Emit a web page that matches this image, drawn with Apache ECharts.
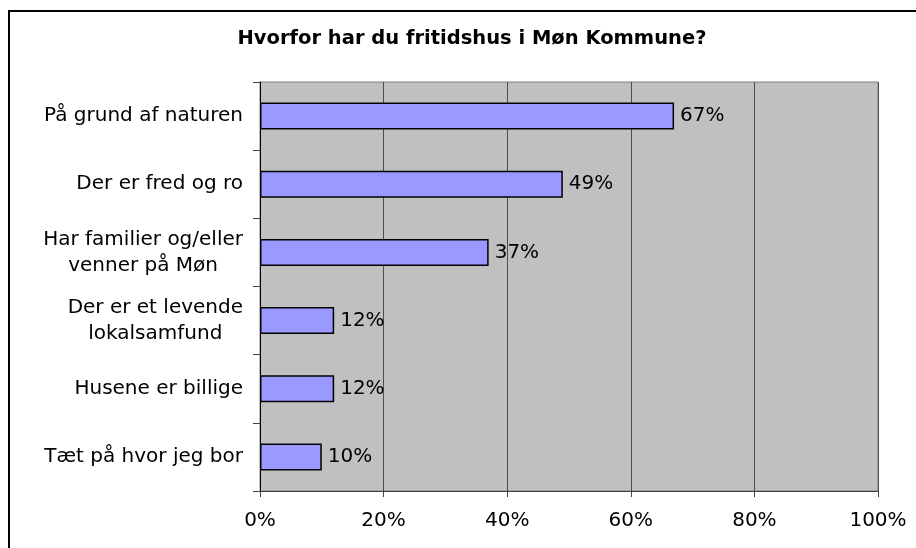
<!DOCTYPE html>
<html>
<head>
<meta charset="utf-8">
<script src="https://cdn.jsdelivr.net/npm/echarts@6/dist/echarts.min.js"></script>
<style>
  html, body { margin: 0; padding: 0; background: #fff; }
  #chart { width: 916px; height: 548px; }
</style>
</head>
<body>
<div id="chart"></div>
<script>
const titleText = 'Hvorfor har du fritidshus i Møn Kommune?'
const categories = [
  'På grund af naturen',
  'Der er fred og ro',
  'Har familier og/eller\nvenner på Møn',
  'Der er et levende\nlokalsamfund',
  'Husene er billige',
  'Tæt på hvor jeg bor'
]
const shares = [67, 49, 37, 12, 12, 10]

const font = 'DejaVu Sans, Verdana, sans-serif'

const chart = echarts.init(document.getElementById('chart'))

chart.setOption({
  animation: false,
  title: {
    text: titleText,
    left: 467,
    textAlign: 'center',
    top: 24,
    textStyle: { fontFamily: font, fontSize: 19.5, fontWeight: 'bold', color: '#000' }
  },
  graphic: [{
    type: 'rect',
    shape: { x: 9, y: 11, width: 920, height: 560 },
    style: { fill: 'none', stroke: '#000', lineWidth: 2 },
    silent: true
  }],
  grid: {
    left: 260,
    right: 38,
    top: 82,
    bottom: 57,
    show: true,
    backgroundColor: '#c0c0c0',
    borderColor: '#808080',
    borderWidth: 1
  },
  xAxis: {
    type: 'value',
    min: 0,
    max: 100,
    interval: 20,
    axisLine: { show: true, lineStyle: { color: '#404040', width: 1 } },
    axisTick: { show: true, length: 6, lineStyle: { color: '#404040' } },
    splitLine: { show: true, lineStyle: { color: '#4d4d4d', width: 1 } },
    axisLabel: {
      margin: 20,
      fontFamily: font,
      fontSize: 20,
      color: '#000',
      formatter: v => v + '%'
    }
  },
  yAxis: {
    type: 'category',
    data: categories,
    inverse: true,
    axisLine: { show: true, lineStyle: { color: '#000', width: 1 } },
    axisTick: { show: true, length: 7, lineStyle: { color: '#404040' } },
    splitLine: { show: false },
    axisLabel: {
      margin: 17,
      fontFamily: font,
      fontSize: 20,
      color: '#000',
      lineHeight: 26,
      formatter: v => v.split('\n').map(s => '{c|' + s + '}').join('\n'),
      rich: {
        c: { align: 'center', fontFamily: font, fontSize: 20, color: '#000', lineHeight: 26 }
      }
    }
  },
  series: [{
    type: 'bar',
    data: shares,
    barWidth: 27,
    itemStyle: { color: '#9999ff', borderColor: '#000', borderWidth: 1.5 },
    label: {
      show: true,
      position: 'right',
      distance: 6,
      fontFamily: font,
      fontSize: 20,
      color: '#000',
      formatter: p => p.value + '%'
    }
  }]
})
</script>
</body>
</html>
